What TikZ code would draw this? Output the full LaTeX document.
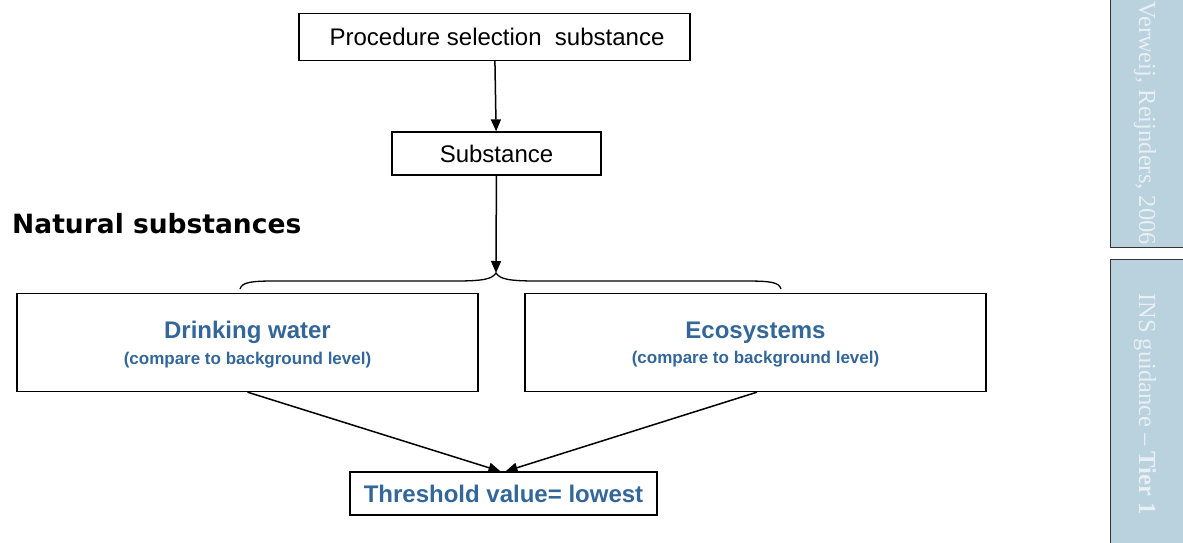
\documentclass[tikz,border=0pt]{standalone}
\usepackage{fontspec}
\setmainfont{Liberation Sans}
\newfontfamily\panelfont{Liberation Serif}
\newfontfamily\headfont{DejaVu Sans}
\usepackage{xcolor}
\usepackage{tikz}
\usetikzlibrary{arrows.meta}
\definecolor{guideblue}{HTML}{336699}
\definecolor{panelfill}{HTML}{BAD1DE}
\definecolor{panelink}{HTML}{E8F0F4}

\begin{document}
\begin{tikzpicture}[x=1pt,y=-1pt,
		box/.style={draw,line width=1.3pt,inner sep=0pt,align=center},
		big/.style={font=\fontsize{24}{28}\selectfont},
		bluetext/.style={align=center,inner sep=0pt,text=guideblue},
		panel/.style={draw=black!80,line width=1.4pt,fill=panelfill},
		paneltext/.style={rotate=-90,inner sep=0pt,text=panelink,font=\panelfont\fontsize{24.5}{28}\selectfont},
		>={Triangle[width=10pt,length=12pt]}]
		\useasboundingbox (0,0) rectangle (1183,542);
		% side panels
		\path[panel] (1110.5,-5) rectangle (1195,247.5);
		\path[panel] (1110.5,259.5) rectangle (1195,550);
		\node[paneltext,anchor=east] (ref) at (1145,245) {Verweij, Reijnders, 2006};
		\node[paneltext,anchor=west] (tier) at (1145,293) {INS guidance – \textbf{Tier 1}};
		% boxes
		\node[box,big,minimum width=391pt,minimum height=47pt] (proc) at (494.5,37) {\hspace{5pt}Procedure selection\ \ substance};
		\node[box,big,minimum width=209pt,minimum height=43pt] (subst) at (496.5,153.5) {Substance};
		\node[anchor=west,inner sep=0pt,font=\headfont\bfseries\fontsize{26.5}{30}\selectfont] (natural) at (12,224) {Natural substances};
		\node[box,minimum width=461pt,minimum height=98pt] (drink) at (247.5,342.5) {};
		\node[box,minimum width=461pt,minimum height=98pt] (eco) at (755.5,342.5) {};
		\node[bluetext] (drinktext) at ([yshift=-2pt]drink.center)
			{{\bfseries\fontsize{24}{28}\selectfont Drinking water}\\[7pt]{\bfseries\fontsize{17}{20}\selectfont (compare to background level)}};
		\node[bluetext] (ecotext) at ([yshift=-2pt]eco.center)
			{{\bfseries\fontsize{24}{28}\selectfont Ecosystems}\\[7pt]{\bfseries\fontsize{17}{20}\selectfont (compare to background level)}};
		\node[box,big,minimum width=307pt,minimum height=43pt,text=guideblue,font=\bfseries\fontsize{24}{28}\selectfont] (thresh) at (503.5,493.5) {Threshold value= lowest};
		% brace
		\coordinate (tip) at (496,273);
		\draw[line width=1.3pt] (240,289) .. controls (242,282) and (252,281) .. (275,281) -- (455,281)
			.. controls (484,281) and (492,279) .. (tip)
			.. controls (500,279) and (508,281) .. (537,281) -- (745,281)
			.. controls (770,281) and (779,282) .. (781,289);
		% arrows
		\path[->,line width=1.5pt]
		(proc) edge (subst)
		(subst) edge (tip)
		(drink.south) edge ([xshift=-3pt]thresh.north)
		([xshift=1.5pt]eco.south) edge ([xshift=2pt]thresh.north);
		\end{tikzpicture}
\end{document}
